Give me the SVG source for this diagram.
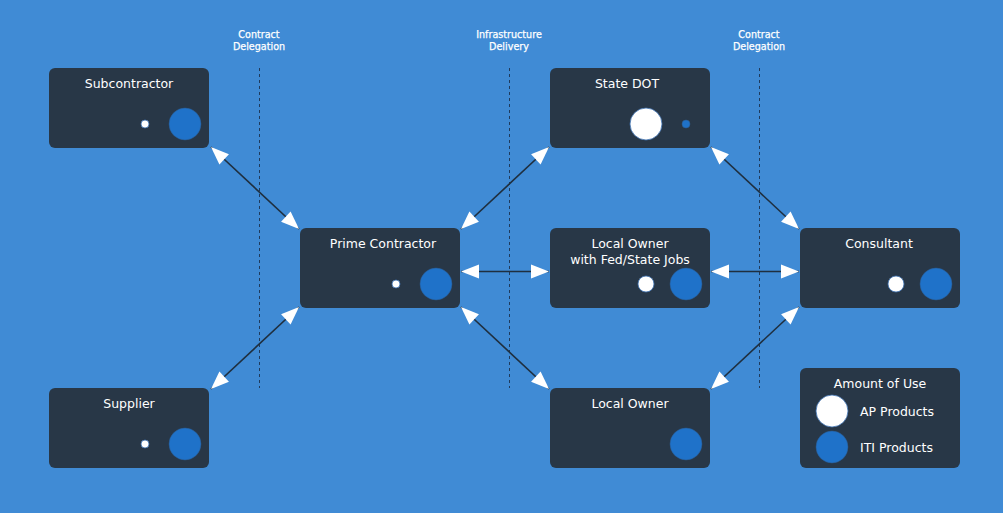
<svg xmlns="http://www.w3.org/2000/svg" width="1003" height="513" viewBox="0 0 1003 513">
<defs>
<marker id="ah" viewBox="0 0 10 10" refX="10" refY="5" markerWidth="10" markerHeight="10" markerUnits="userSpaceOnUse" orient="auto-start-reverse" overflow="visible">
<path d="M-8,-2 L10,5 L-8,12 Z" fill="#ffffff"/>
</marker>
<style>
.bg{fill:#408bd5}
.box{fill:#283747}
.t{font-family:"DejaVu Sans",Verdana,sans-serif;font-size:12.5px;fill:#ffffff;text-anchor:middle}
.tl{font-family:"DejaVu Sans",Verdana,sans-serif;font-size:12.5px;fill:#ffffff}
.s{font-family:"DejaVu Sans",Verdana,sans-serif;font-size:9.6px;fill:#ffffff;stroke:#ffffff;stroke-width:0.25;text-anchor:middle}
.w{fill:#ffffff;stroke:#3a6fb0;stroke-width:0.8}
.b{fill:#1f72c9;stroke:#2c5a8f;stroke-width:0.5}
.dash{stroke:#1f3a5c;stroke-width:1;stroke-dasharray:3 3;fill:none}
.c{stroke:#1f2f3f;stroke-width:1.6;fill:none;marker-start:url(#ah);marker-end:url(#ah)}
</style>
</defs>
<rect class="bg" x="0" y="0" width="1003" height="513"/>
<g id="lanes">
<line class="dash" x1="259.5" y1="68" x2="259.5" y2="388"/>
<line class="dash" x1="509.5" y1="68" x2="509.5" y2="388"/>
<line class="dash" x1="759.5" y1="68" x2="759.5" y2="388"/>
<text class="s" x="259" y="38">Contract</text>
<text class="s" x="259" y="50">Delegation</text>
<text class="s" x="509" y="38">Infrastructure</text>
<text class="s" x="509" y="50">Delivery</text>
<text class="s" x="759" y="38">Contract</text>
<text class="s" x="759" y="50">Delegation</text>
</g>
<g id="connectors">
<line class="c" x1="211" y1="147" x2="299" y2="229"/>
<line class="c" x1="211" y1="389" x2="299" y2="307"/>
<line class="c" x1="461" y1="229" x2="549" y2="147"/>
<line class="c" x1="461" y1="271.5" x2="549" y2="271.5"/>
<line class="c" x1="461" y1="307" x2="549" y2="389"/>
<line class="c" x1="711" y1="147" x2="799" y2="229"/>
<line class="c" x1="711" y1="271.5" x2="799" y2="271.5"/>
<line class="c" x1="711" y1="389" x2="799" y2="307"/>
</g>
<g id="subcontractor">
<rect class="box" x="49" y="68" width="160" height="80" rx="6"/>
<text class="t" x="129" y="88">Subcontractor</text>
<circle class="w" cx="145" cy="124" r="4"/>
<circle class="b" cx="185" cy="124" r="16"/>
</g>
<g id="supplier">
<rect class="box" x="49" y="388" width="160" height="80" rx="6"/>
<text class="t" x="129" y="408">Supplier</text>
<circle class="w" cx="145" cy="444" r="4"/>
<circle class="b" cx="185" cy="444" r="16"/>
</g>
<g id="prime">
<rect class="box" x="300" y="228" width="160" height="80" rx="6"/>
<text class="t" x="383" y="248">Prime Contractor</text>
<circle class="w" cx="396" cy="284" r="4"/>
<circle class="b" cx="436" cy="284" r="16"/>
</g>
<g id="statedot">
<rect class="box" x="550" y="68" width="160" height="80" rx="6"/>
<text class="t" x="627" y="88">State DOT</text>
<circle class="w" cx="646" cy="124" r="16"/>
<circle class="b" cx="686" cy="124" r="4"/>
</g>
<g id="localfed">
<rect class="box" x="550" y="228" width="160" height="80" rx="6"/>
<text class="t" x="630" y="248">Local Owner</text>
<text class="t" x="630" y="264">with Fed/State Jobs</text>
<circle class="w" cx="646" cy="284" r="8"/>
<circle class="b" cx="686" cy="284" r="16"/>
</g>
<g id="localowner">
<rect class="box" x="550" y="388" width="160" height="80" rx="6"/>
<text class="t" x="630" y="408">Local Owner</text>
<circle class="b" cx="686" cy="444" r="16"/>
</g>
<g id="consultant">
<rect class="box" x="800" y="228" width="160" height="80" rx="6"/>
<text class="t" x="879" y="248">Consultant</text>
<circle class="w" cx="896" cy="284" r="8"/>
<circle class="b" cx="936" cy="284" r="16"/>
</g>
<g id="legend">
<rect class="box" x="800" y="368" width="160" height="100" rx="6"/>
<text class="t" x="880" y="388">Amount of Use</text>
<circle class="w" cx="832" cy="411" r="16"/>
<text class="tl" x="860" y="416">AP Products</text>
<circle class="b" cx="832" cy="447" r="16"/>
<text class="tl" x="860" y="452">ITI Products</text>
</g>
</svg>
